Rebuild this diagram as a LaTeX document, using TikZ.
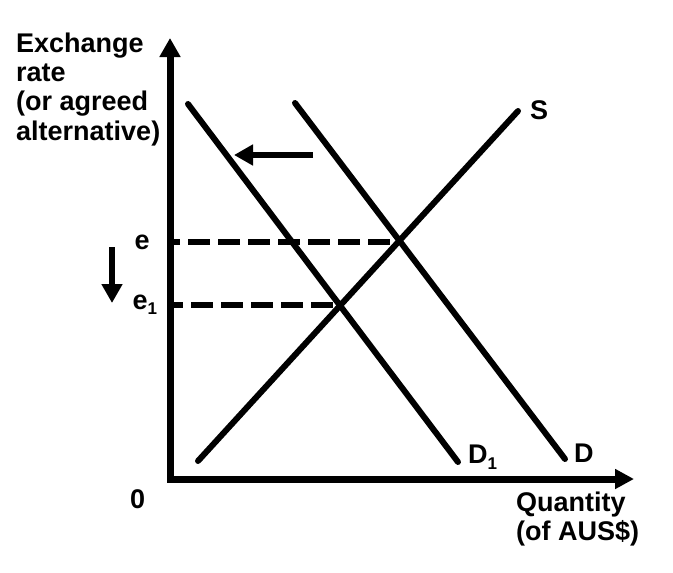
\documentclass[tikz,border=0pt]{standalone}
\usepackage{fontspec}
\setmainfont{Liberation Sans}
\usetikzlibrary{arrows.meta}
\begin{document}
\begin{tikzpicture}[x=1pt,y=-1pt,
  lbl/.style={inner sep=0pt,font=\fontsize{27}{29.3}\selectfont\bfseries},
  curve/.style={line width=6pt,line cap=round},
  axisline/.style={line width=7pt,line join=miter},
  guide/.style={line width=6pt,dash pattern=on 22pt off 8pt},
  shiftarrow/.style={line width=6.5pt,-{Triangle[length=19pt,width=20pt]}}]
\useasboundingbox (0,0) rectangle (673,573);
% axes
\coordinate (O) at (170,479);
\coordinate (Ytip) at (170,38);
\coordinate (Xtip) at (634,479);
\draw[axisline,{Triangle[length=19pt,width=20pt]}-{Triangle[length=19pt,width=19pt]}] (Ytip) -- (O) -- (Xtip);
% curves
\coordinate (S0) at (198,461);
\coordinate (S1) at (518,111);
\coordinate (D0) at (295,103);
\coordinate (D1e) at (565,459);
\coordinate (Da) at (188,104);
\coordinate (Db) at (458,462);
\draw[curve] (S0) -- (S1);
\draw[curve] (D0) -- (D1e);
\draw[curve] (Da) -- (Db);
% equilibria
\coordinate (E) at (398,242);
\coordinate (Eax) at (173,242);
\coordinate (E1) at (339,305);
\coordinate (E1ax) at (173,305);
\draw[guide,dash phase=15pt] (Eax) -- (E);
\draw[guide,dash phase=12pt] (E1ax) -- (E1);
% shift arrows
\coordinate (La) at (313,155);
\coordinate (Lb) at (234,155);
\draw[shiftarrow] (La) -- (Lb);
\coordinate (Va) at (112,247);
\coordinate (Vb) at (112,303);
\draw[shiftarrow] (Va) -- (Vb);
% labels
\node[lbl,anchor=north west,align=left] (ylab) at (16,32.5) {Exchange\\rate\\(or agreed\\alternative)};
\node[lbl,anchor=north west,align=left] (xlab) at (516,491.5) {Quantity\\(of AUS\$)};
\node[lbl,anchor=base west] (zero) at (130,508) {0};
\node[lbl,anchor=base west] (elab) at (134.5,249) {e};
\node[lbl,anchor=base west] (e1lab) at (132.5,309) {e\raisebox{-5pt}{\fontsize{17}{17}\selectfont 1}};
\node[lbl,anchor=base west] (slab) at (530,119) {S};
\node[lbl,anchor=base west] (dlab) at (574,462) {D};
\node[lbl,anchor=base west] (d1lab) at (468,463) {D\raisebox{-6pt}{\fontsize{17}{17}\selectfont 1}};
\end{tikzpicture}
\end{document}
